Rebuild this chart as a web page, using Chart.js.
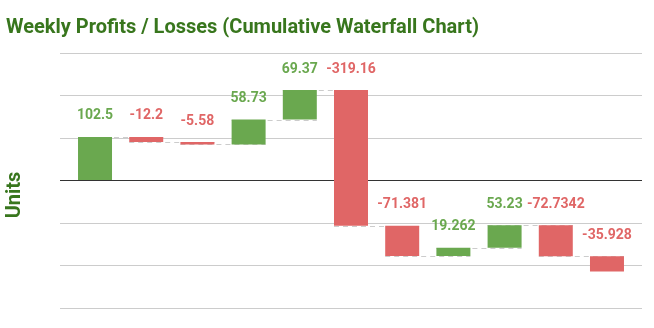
<!DOCTYPE html>
<html>
<head>
<meta charset="utf-8">
<script src="https://cdn.jsdelivr.net/npm/chart.js@4"></script>
<style>
  html, body { margin: 0; padding: 0; background: #fff; }
  #wrap { width: 654px; height: 328px; }
</style>
</head>
<body>
<div id="wrap"><canvas id="waterfallChart"></canvas></div>
<script>
const weeks = ['Week 1', 'Week 2', 'Week 3', 'Week 4', 'Week 5', 'Week 6', 'Week 7', 'Week 8', 'Week 9', 'Week 10', 'Week 11'];
const changes = [102.5, -12.2, -5.58, 58.73, 69.37, -319.16, -71.381, 19.262, 53.23, -72.7342, -35.928];
const yTicks = [-300, -200, -100, 0, 100, 200, 300];

const GREEN = '#6aa84f';
const RED = '#e06666';
const TITLE_GREEN = '#38761d';

// running totals give each floating bar its start and end
let running = 0;
const bars = changes.map((c, i) => {
  const start = running;
  running += c;
  return { x: i, y: [start, running] };
});
const colors = changes.map(c => c >= 0 ? GREEN : RED);

const connectorPlugin = {
  id: 'connectors',
  beforeDatasetsDraw(chart) {
    const meta = chart.getDatasetMeta(0);
    const yScale = chart.scales.y;
    const ctx = chart.ctx;
    ctx.save();
    ctx.strokeStyle = '#cccccc';
    ctx.lineWidth = 1;
    ctx.setLineDash([5, 4]);
    for (let i = 0; i < meta.data.length - 1; i++) {
      const a = meta.data[i];
      const b = meta.data[i + 1];
      const y = Math.round(yScale.getPixelForValue(bars[i].y[1])) + 0.5;
      ctx.beginPath();
      ctx.moveTo(a.x - a.width / 2, y);
      ctx.lineTo(b.x + b.width / 2, y);
      ctx.stroke();
    }
    ctx.restore();
  }
};

const labelPlugin = {
  id: 'valueLabels',
  afterDatasetsDraw(chart) {
    const meta = chart.getDatasetMeta(0);
    const ctx = chart.ctx;
    ctx.save();
    ctx.font = 'bold 14px Roboto';
    ctx.textAlign = 'center';
    ctx.textBaseline = 'middle';
    meta.data.forEach((el, i) => {
      const top = Math.min(el.y, el.base);
      ctx.fillStyle = colors[i];
      ctx.fillText(String(changes[i]), el.x, top - 21);
    });
    ctx.restore();
  }
};

const axisTitlePlugin = {
  id: 'unitsTitle',
  afterDraw(chart) {
    const ctx = chart.ctx;
    ctx.save();
    ctx.translate(15, 195);
    ctx.rotate(-Math.PI / 2);
    ctx.font = 'bold 20px Roboto';
    ctx.fillStyle = TITLE_GREEN;
    ctx.textAlign = 'center';
    ctx.textBaseline = 'middle';
    ctx.fillText('Units', 0, 0);
    ctx.restore();
  }
};

const ctx = document.getElementById('waterfallChart').getContext('2d');
new Chart(ctx, {
  type: 'bar',
  data: {
    labels: weeks,
    datasets: [{
      data: bars,
      backgroundColor: colors,
      borderWidth: 0,
      barPercentage: 0.664,
      categoryPercentage: 1
    }]
  },
  options: {
    responsive: true,
    maintainAspectRatio: false,
    animation: false,
    layout: { padding: { left: 6, right: 12, top: 0, bottom: 20 } },
    plugins: {
      legend: { display: false },
      tooltip: { enabled: false },
      title: {
        display: true,
        text: 'Weekly Profits / Losses (Cumulative Waterfall Chart)',
        align: 'start',
        color: TITLE_GREEN,
        font: { family: 'Roboto', size: 20, weight: 'bold' },
        padding: { top: 16, bottom: 13 }
      }
    },
    scales: {
      x: {
        type: 'linear',
        offset: false,
        min: -0.684,
        max: 10.684,
        display: false
      },
      y: {
        min: yTicks[0],
        max: yTicks[yTicks.length - 1],
        afterBuildTicks: scale => { scale.ticks = yTicks.map(v => ({ value: v })); },
        afterFit: scale => { scale.width = 54; },
        ticks: { display: false },
        border: { display: false },
        grid: {
          drawTicks: false,
          color: c => c.tick.value === 0 ? '#333333' : '#cccccc',
          lineWidth: 1
        }
      }
    }
  },
  plugins: [connectorPlugin, labelPlugin, axisTitlePlugin]
});
</script>
</body>
</html>
